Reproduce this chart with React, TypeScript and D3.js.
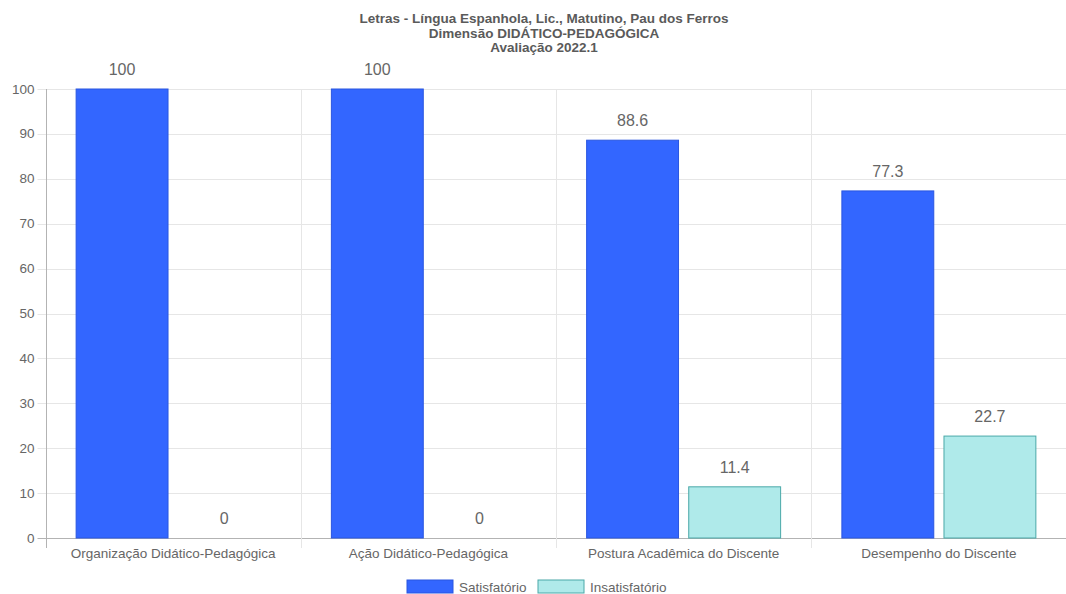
import React, { useRef, useEffect } from 'react';
import * as d3 from 'd3';

const titleLines = ['Letras - Língua Espanhola, Lic., Matutino, Pau dos Ferros', 'Dimensão DIDÁTICO-PEDAGÓGICA', 'Avaliação 2022.1'];
const categories = ['Organização Didático-Pedagógica', 'Ação Didático-Pedagógica', 'Postura Acadêmica do Discente', 'Desempenho do Discente'];
const seriesNames = ['Satisfatório', 'Insatisfatório'];
const satisfatorio = [100, 100, 88.6, 77.3];
const insatisfatorio = [0, 0, 11.4, 22.7];
const yTicks = [0, 10, 20, 30, 40, 50, 60, 70, 80, 90, 100];

const fills = ['#3366ff', '#afeaea'];
const strokes = ['#2a56e0', '#4aa8a8'];

const App = () => {
  const ref = useRef<SVGSVGElement>(null);

  useEffect(() => {
    if (!ref.current) return;
    const svg = d3.select(ref.current);
    svg.selectAll('*').remove();

    const width = 1066;
    const height = 594;
    const font = 'Liberation Sans, Arial, sans-serif';
    svg.attr('width', width).attr('height', height).style('font-family', font);

    const left = 45.5;
    const right = 1066.5;
    const top = 89;
    const bottom = 538;

    const x = d3.scaleBand().domain(categories).range([left, right]);
    const y = d3.scaleLinear().domain([0, 100]).range([bottom, top]);
    const inner = d3.scaleBand().domain(seriesNames).range([0, x.bandwidth() * 0.8]);
    const barW = inner.bandwidth() * 0.9;

    // title
    svg.append('g').selectAll('text').data(titleLines).enter().append('text')
      .attr('x', 544).attr('y', (d, i) => 23 + i * 14.7)
      .attr('text-anchor', 'middle').attr('font-size', 13.5).attr('font-weight', 'bold')
      .attr('fill', '#5a5a5a').text(d => d);

    // horizontal grid
    svg.append('g').selectAll('line').data(yTicks).enter().append('line')
      .attr('x1', left - 8).attr('x2', right)
      .attr('y1', d => Math.round(y(d)) + 0.5).attr('y2', d => Math.round(y(d)) + 0.5)
      .attr('stroke', d => d === 0 ? '#b3b3b3' : '#e6e6e6').attr('stroke-width', 1);

    // vertical grid
    const bounds = categories.map(c => x(c) as number).concat([right]);
    svg.append('g').selectAll('line').data(bounds).enter().append('line')
      .attr('x1', d => Math.round(d) + 0.5).attr('x2', d => Math.round(d) + 0.5)
      .attr('y1', top).attr('y2', bottom + 10)
      .attr('stroke', (d, i) => i === 0 ? '#b3b3b3' : '#e6e6e6');

    // y tick labels
    svg.append('g').selectAll('text').data(yTicks).enter().append('text')
      .attr('x', left - 11).attr('y', d => y(d) + 4.5)
      .attr('text-anchor', 'end').attr('font-size', 13.5).attr('fill', '#666')
      .text(d => d);

    // x labels
    svg.append('g').selectAll('text').data(categories).enter().append('text')
      .attr('x', d => (x(d) as number) + x.bandwidth() / 2).attr('y', bottom + 20)
      .attr('text-anchor', 'middle').attr('font-size', 13.5).attr('fill', '#666')
      .text(d => d);

    const series = [satisfatorio, insatisfatorio];
    series.forEach((vals, si) => {
      const g = svg.append('g');
      const offset = x.bandwidth() * 0.1 + (inner(seriesNames[si]) as number) + (inner.bandwidth() - barW) / 2;
      const pts = vals.map((v, i) => ({ v, c: categories[i] }));
      g.selectAll('rect').data(pts.filter(d => d.v > 0)).enter().append('rect')
        .attr('x', d => (x(d.c) as number) + offset)
        .attr('y', d => y(d.v))
        .attr('width', barW)
        .attr('height', d => bottom - y(d.v))
        .attr('fill', fills[si]).attr('stroke', strokes[si]).attr('stroke-width', 1);
      g.selectAll('text').data(pts).enter().append('text')
        .attr('x', d => (x(d.c) as number) + offset + barW / 2)
        .attr('y', d => y(d.v) - 14)
        .attr('text-anchor', 'middle').attr('font-size', 16).attr('fill', '#666')
        .text(d => d.v);
    });

    // legend
    const legend = svg.append('g');
    const items = [{ n: seriesNames[0], x: 407 }, { n: seriesNames[1], x: 538 }];
    items.forEach((it, i) => {
      legend.append('rect').attr('x', it.x).attr('y', 580).attr('width', 46).attr('height', 13)
        .attr('fill', fills[i]).attr('stroke', strokes[i]);
      legend.append('text').attr('x', it.x + 52).attr('y', 591.5).attr('font-size', 13.5)
        .attr('fill', '#666').text(it.n);
    });
  }, []);

  return (
    <div style={{ position: 'absolute', left: 0, top: 0 }}>
      <svg ref={ref} style={{ display: 'block' }} />
    </div>
  );
};

export default App;
